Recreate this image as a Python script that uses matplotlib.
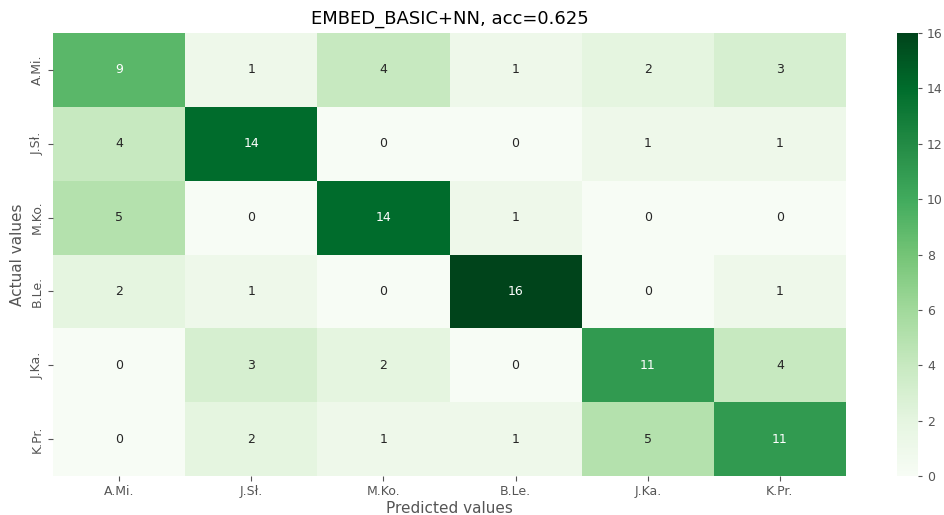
import numpy as np
import matplotlib
matplotlib.use("Agg")
import matplotlib.pyplot as plt
import seaborn as sns

# confusion matrix for the EMBED_BASIC+NN model
labels = ["A.Mi.", "J.Sł.", "M.Ko.", "B.Le.", "J.Ka.", "K.Pr."]
cm = np.array([
    [9, 1, 4, 1, 2, 3],
    [4, 14, 0, 0, 1, 1],
    [5, 0, 14, 1, 0, 0],
    [2, 1, 0, 16, 0, 1],
    [0, 3, 2, 0, 11, 4],
    [0, 2, 1, 1, 5, 11],
])
accuracy = 0.625

plt.rcParams["font.family"] = ["DejaVu Sans"]
tick_color = "#555555"

W, H = 944, 515
fig = plt.figure(figsize=(W / 100, H / 100), dpi=100)
ax = fig.add_axes([53 / W, (H - 476) / H, 793 / W, 443 / H])
cax = fig.add_axes([897 / W, (H - 476) / H, 21 / W, 443 / H])

sns.heatmap(cm, annot=True, fmt="d", cmap="Greens", ax=ax, cbar_ax=cax,
            xticklabels=labels, yticklabels=labels,
            annot_kws={"fontsize": 9})

ax.set_title(f"EMBED_BASIC+NN, acc={accuracy}", fontsize=13, pad=7)
ax.set_xlabel("Predicted values", fontsize=11, color=tick_color, labelpad=2)
ax.set_ylabel("Actual values", fontsize=11, color=tick_color, labelpad=4)
ax.tick_params(axis="both", labelsize=9, colors=tick_color, length=3.5, pad=3)
ax.tick_params(axis="y", labelrotation=90)
for t in ax.get_yticklabels():
    t.set_va("center")

cax.tick_params(labelsize=9, colors=tick_color, length=3)
cax.yaxis.set_ticks(range(0, 17, 2))
for s in cax.spines.values():
    s.set_visible(False)

fig.savefig("out.png", dpi=100)
